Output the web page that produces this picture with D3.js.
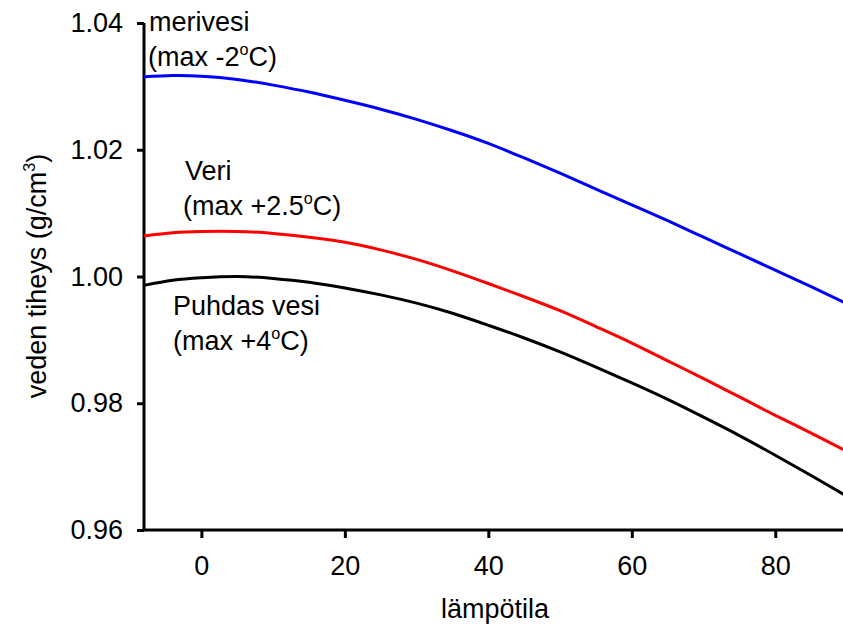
<!DOCTYPE html>
<html>
<head>
<meta charset="utf-8">
<script src="https://cdn.jsdelivr.net/npm/d3@7"></script>
<style>
  html, body { margin: 0; padding: 0; background: #fff; }
  svg { display: block; font-family: "Liberation Sans", Arial, sans-serif; }
</style>
</head>
<body>
<svg id="chart" width="843" height="633"></svg>
<script>
// Temperature (°C) sample points
const temps = [-8, -4, 0, 5, 10, 15, 20, 25, 30, 35, 40, 45, 50, 55, 60, 65, 70, 75, 80, 85, 90];

// Density (g/cm³) at each temperature
const seawater = [1.0315, 1.0317, 1.0316, 1.0311, 1.0302, 1.0291, 1.0278, 1.0264, 1.0248, 1.0230, 1.0210,
                  1.0187, 1.0163, 1.0138, 1.0113, 1.0088, 1.0062, 1.0036, 1.0010, 0.9984, 0.9957];
const blood    = [1.0064, 1.0069, 1.0071, 1.0071, 1.0068, 1.0062, 1.0054, 1.0042, 1.0027, 1.0009, 0.9989,
                  0.9968, 0.9946, 0.9921, 0.9895, 0.9867, 0.9839, 0.9810, 0.9781, 0.9753, 0.9724];
const water    = [0.9986, 0.9994, 0.9998, 1.0000, 0.9997, 0.9991, 0.9982, 0.9971, 0.9958, 0.9942, 0.9923,
                  0.9903, 0.9881, 0.9857, 0.9832, 0.9806, 0.9778, 0.9749, 0.9718, 0.9686, 0.9653];

const xTicks = [0, 20, 40, 60, 80];
const yTicks = [0.96, 0.98, 1.00, 1.02, 1.04];

const svg = d3.select("#chart");
const FS = 27;

const x = d3.scaleLinear().domain([-8, 90]).range([144, 847]);
const y = d3.scaleLinear().domain([0.96, 1.04]).range([530, 23]);

// Axes
const yAxis = d3.axisLeft(y).tickValues(yTicks).tickSize(7).tickSizeOuter(0).tickPadding(14)
  .tickFormat(d3.format(".2f"));
const xAxis = d3.axisBottom(x).tickValues(xTicks).tickSize(8).tickSizeOuter(0).tickPadding(18)
  .tickFormat(d3.format("d"));

const gy = svg.append("g").attr("transform", "translate(144,0)").call(yAxis);
const gx = svg.append("g").attr("transform", "translate(0,530)").call(xAxis);
[gx, gy].forEach(g => {
  g.selectAll("path, line").attr("stroke", "#000").attr("stroke-width", 3);
  g.selectAll("text").attr("font-size", FS).attr("fill", "#000")
    .attr("font-family", "'Liberation Sans', Arial, sans-serif");
});
gy.select(".domain").attr("d", "M0,530V23");
gx.select(".domain").attr("d", "M144,0H847");

// Curves
const line = d3.line().x((d, i) => x(temps[i])).y(d => y(d)).curve(d3.curveNatural);
const series = [
  { values: seawater, color: "#0000ff" },
  { values: blood,    color: "#ff0000" },
  { values: water,    color: "#000000" }
];
svg.append("g").selectAll("path").data(series).join("path")
  .attr("d", d => line(d.values))
  .attr("fill", "none")
  .attr("stroke", d => d.color)
  .attr("stroke-width", 3);

// Curve labels; the degree mark is a raised small "o"
const SUP = FS * 0.6, RAISE = FS * 0.4;
function label(xp, yp, parts) {
  const t = svg.append("text").attr("x", xp).attr("y", yp).attr("font-size", FS).attr("fill", "#000");
  let raised = false;
  parts.forEach(p => {
    const s = t.append("tspan").text(p.text);
    if (p.sup) { s.attr("font-size", SUP).attr("dy", -RAISE); raised = true; }
    else if (raised) { s.attr("dy", RAISE); raised = false; }
  });
}
label(149, 31, [{ text: "merivesi" }]);
label(148, 66, [{ text: "(max -2" }, { text: "o", sup: true }, { text: "C)" }]);
label(185, 180, [{ text: "Veri" }]);
label(183, 215, [{ text: "(max +2.5" }, { text: "o", sup: true }, { text: "C)" }]);
label(173, 315, [{ text: "Puhdas vesi" }]);
label(173, 350, [{ text: "(max +4" }, { text: "o", sup: true }, { text: "C)" }]);

// Axis titles
svg.append("text").attr("x", 495).attr("y", 618).attr("text-anchor", "middle")
  .attr("font-size", FS).text("lämpötila");

const yt = svg.append("text").attr("transform", "translate(46,276) rotate(-90)")
  .attr("text-anchor", "middle").attr("font-size", FS);
yt.append("tspan").text("veden tiheys (g/cm");
yt.append("tspan").attr("font-size", SUP).attr("dy", -RAISE).text("3");
yt.append("tspan").attr("dy", RAISE).text(")");
</script>
</body>
</html>
